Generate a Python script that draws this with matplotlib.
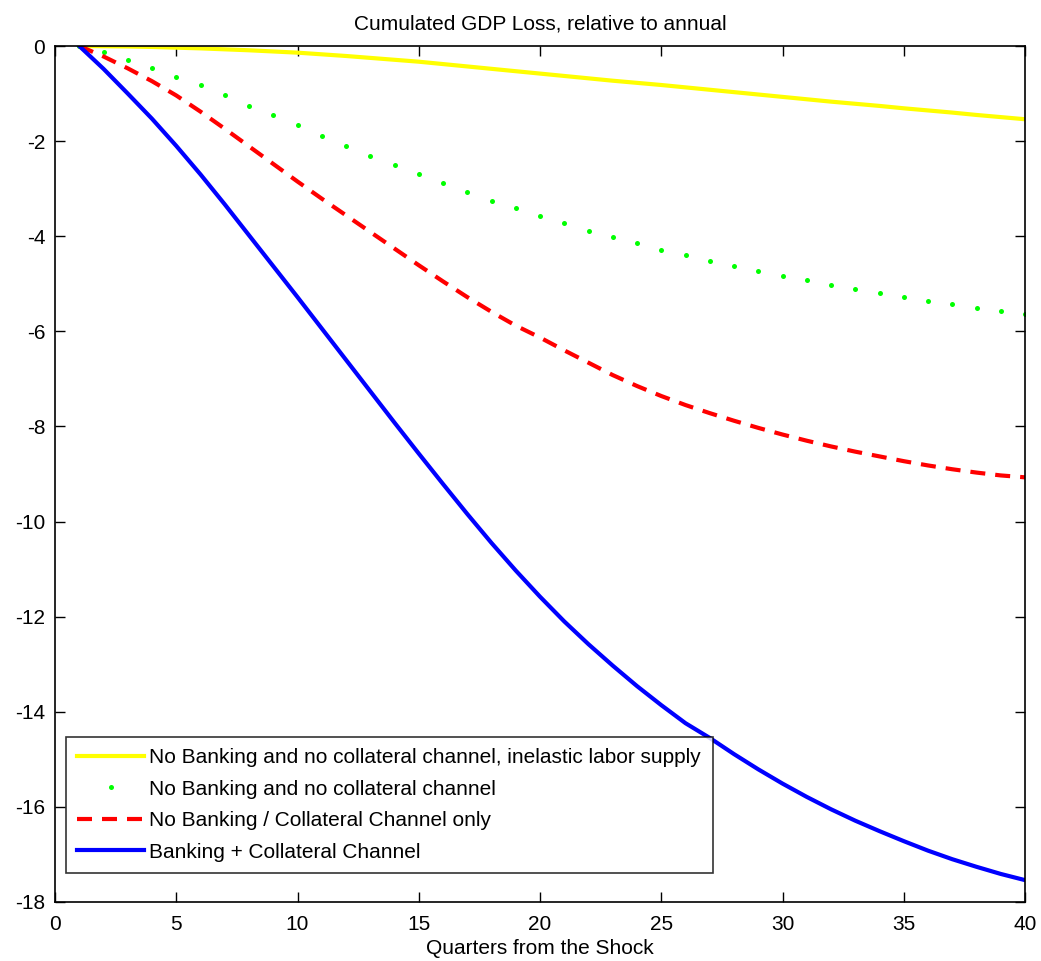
import matplotlib
matplotlib.use("Agg")
import matplotlib.pyplot as plt
import numpy as np

plt.rcParams['font.family'] = ['Liberation Sans', 'DejaVu Sans']

quarters = list(range(1, 41))

yellow_vals = [0, -0.005, -0.01, -0.02, -0.035, -0.05, -0.07, -0.09, -0.115, -0.14,
               -0.175, -0.21, -0.25, -0.29, -0.33, -0.38, -0.43, -0.48, -0.53, -0.58,
               -0.63, -0.68, -0.73, -0.775, -0.82, -0.87, -0.92, -0.97, -1.02, -1.07,
               -1.12, -1.17, -1.215, -1.26, -1.31, -1.355, -1.40, -1.45, -1.495, -1.54]

green_vals = [0, -0.13, -0.29, -0.46, -0.65, -0.83, -1.04, -1.26, -1.46, -1.67,
              -1.89, -2.10, -2.31, -2.50, -2.70, -2.89, -3.07, -3.25, -3.41, -3.57,
              -3.72, -3.88, -4.01, -4.15, -4.28, -4.40, -4.52, -4.63, -4.73, -4.83,
              -4.92, -5.02, -5.11, -5.19, -5.28, -5.36, -5.43, -5.50, -5.57, -5.64]

red_vals = [0, -0.22, -0.47, -0.74, -1.04, -1.38, -1.74, -2.11, -2.48, -2.85,
            -3.21, -3.56, -3.91, -4.26, -4.61, -4.95, -5.28, -5.59, -5.88, -6.13,
            -6.40, -6.66, -6.92, -7.15, -7.36, -7.55, -7.72, -7.88, -8.03, -8.17,
            -8.30, -8.42, -8.53, -8.63, -8.73, -8.82, -8.90, -8.97, -9.03, -9.07]

blue_vals = [0, -0.48, -1.0, -1.53, -2.1, -2.7, -3.33, -3.98, -4.63, -5.28,
             -5.94, -6.6, -7.26, -7.92, -8.57, -9.21, -9.84, -10.45, -11.03, -11.58,
             -12.1, -12.58, -13.03, -13.46, -13.86, -14.24, -14.55, -14.89, -15.21, -15.51,
             -15.79, -16.05, -16.29, -16.51, -16.72, -16.92, -17.10, -17.26, -17.41, -17.54]

labels = ["No Banking and no collateral channel, inelastic labor supply",
          "No Banking and no collateral channel",
          "No Banking / Collateral Channel only",
          "Banking + Collateral Channel"]

x_ticks = [0, 5, 10, 15, 20, 25, 30, 35, 40]
y_ticks = [0, -2, -4, -6, -8, -10, -12, -14, -16, -18]

fig = plt.figure(figsize=(10.41, 9.61), dpi=100)
ax = fig.add_axes([55/1041, 1 - 902/961, (1025-55)/1041, (902-46)/961])

ax.plot(quarters, yellow_vals, color='#ffff00', lw=3, label=labels[0])
ax.plot(quarters, green_vals, color='#00ff00', linestyle='none', marker='o',
        markersize=3.6, markeredgewidth=0, label=labels[1])
ax.plot(quarters, red_vals, color='#ff0000', lw=3, linestyle=(0, (3.6, 2.4)), label=labels[2])
ax.plot(quarters, blue_vals, color='#0000ff', lw=3, label=labels[3])

ax.set_xlim(0, 40)
ax.set_ylim(-18, 0)
ax.set_xticks(x_ticks)
ax.set_yticks(y_ticks)
ax.set_xticklabels([str(v) for v in x_ticks])
ax.set_yticklabels([str(v) for v in y_ticks])
ax.tick_params(direction='in', length=7, width=1, top=True, right=True, labelsize=15)
ax.tick_params(axis='x', pad=9)
ax.tick_params(axis='y', pad=7)
for s in ax.spines.values():
    s.set_linewidth(1.2)

ax.set_title("Cumulated GDP Loss, relative to annual", fontsize=15, pad=12)
ax.set_xlabel("Quarters from the Shock", fontsize=15, labelpad=4)

leg = ax.legend(loc='lower left', bbox_to_anchor=(11/970, 29/856), fontsize=15,
                numpoints=1, frameon=True, fancybox=False, handlelength=3.2,
                handletextpad=0.25, borderpad=0.55, labelspacing=0.6, borderaxespad=0)
leg.get_frame().set_edgecolor('black')
leg.get_frame().set_linewidth(1.2)

fig.savefig("out.png", dpi=100)
